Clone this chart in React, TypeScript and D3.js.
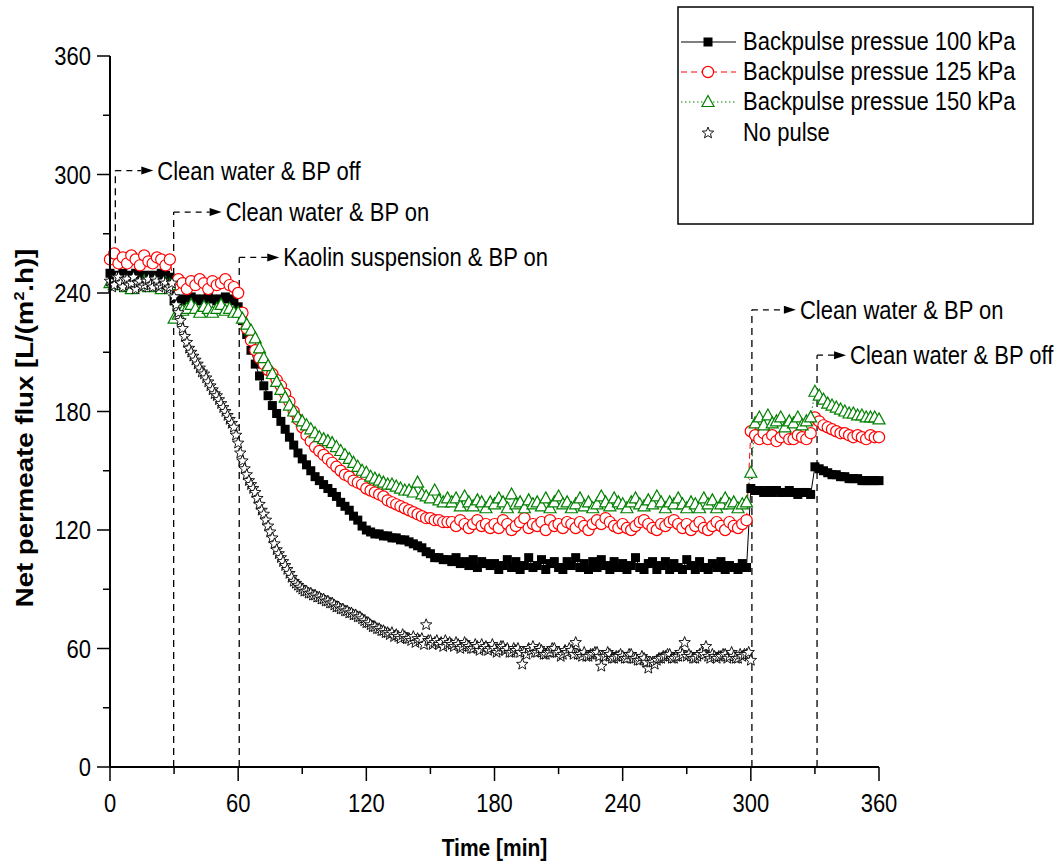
import React from 'react';
import * as d3 from 'd3';

// ---------- data ----------
const TIME_STEP = 2; // minutes between samples (backpulse series)
const NO_PULSE_STEP = 1; // minutes between samples (no pulse series)

const flux100 = [
  250, 249, 248, 250, 248, 249, 250, 248, 249, 248,
  249, 248, 250, 249, 248, 236, 237, 236, 237, 238,
  237, 236, 237, 238, 237, 236, 237, 238, 237, 236,
  233, 226, 219, 211, 204, 198, 193, 188, 183, 179,
  175, 171, 167, 163, 159, 156, 153, 150, 147, 145,
  143, 141, 139, 137, 134, 132, 130, 127, 125, 122,
  120, 119, 118, 118, 117, 117, 116, 116, 115, 115,
  114, 113, 112, 111, 109, 108, 106, 106, 105, 105,
  104, 106, 103, 104, 102, 105, 101, 104, 103, 102,
  103, 100, 102, 105, 101, 104, 100, 102, 106, 101,
  102, 105, 100, 103, 104, 101, 100, 104, 102, 106,
  101, 103, 100, 104, 101, 105, 102, 100, 104, 101,
  103, 100, 102, 106, 101, 100, 103, 104, 100, 102,
  104, 100, 103, 101, 100, 105, 102, 100, 104, 101,
  100, 103, 101, 104, 100, 102, 101, 100, 103, 101,
  141, 140, 140, 139, 140, 139, 140, 139, 139, 140,
  139, 138, 139, 139, 138, 152, 151, 150, 149, 148,
  148, 147, 147, 146, 146, 146, 145, 145, 145, 145,
  145,
];

const flux125 = [
  257, 260, 255, 258, 255, 259, 257, 254, 259, 256,
  255, 258, 257, 254, 257, 244, 247, 245, 242, 246,
  244, 247, 245, 242, 246, 244, 245, 247, 244, 243,
  240, 230, 222, 216, 211, 207, 204, 201, 199, 196,
  193, 189, 185, 180, 176, 172, 168, 165, 162, 160,
  158, 156, 154, 152, 150, 148, 147, 145, 144, 143,
  141, 140, 139, 138, 137, 135, 134, 133, 132, 131,
  130, 129, 128, 127, 126, 126, 125, 125, 124, 124,
  124, 122, 125, 123, 121, 123, 125, 122, 123, 121,
  123, 121, 125, 123, 120, 122, 124, 126, 121, 123,
  122, 124, 120, 125, 122, 123, 121, 124, 123, 121,
  124, 122, 120, 123, 125, 123, 126, 124, 122, 121,
  123, 121, 120, 122, 124, 125, 123, 121, 120, 123,
  122, 124, 125, 123, 121, 123, 120, 122, 124, 121,
  120, 122, 124, 122, 120, 124, 122, 121, 123, 125,
  170, 168, 166, 169, 166, 168, 165, 167, 169, 166,
  166, 168, 167, 166, 169, 177, 175, 173, 172, 171,
  170, 169, 169, 168, 167, 168, 167, 166, 168, 167,
  167,
];

const flux150 = [
  245, 244, 246, 245, 243, 242, 245, 244, 246, 243,
  245, 244, 242, 245, 244, 227, 229, 231, 232, 234,
  232, 230, 233, 232, 230, 232, 234, 231, 232, 230,
  230, 227, 224, 221, 217, 212, 207, 203, 199, 195,
  191, 187, 183, 180, 177, 175, 173, 171, 169, 167,
  166, 165, 164, 162, 160, 158, 156, 154, 152, 150,
  149, 147, 146, 145, 144, 143, 143, 142, 141, 140,
  140, 139, 144, 138, 137, 136, 140, 135, 134, 136,
  134, 136, 132, 137, 134, 132, 135, 134, 131, 134,
  133, 136, 134, 131, 138, 133, 134, 131, 135, 133,
  134, 132, 136, 131, 134, 137, 133, 134, 131, 133,
  136, 132, 134, 131, 133, 137, 134, 132, 136, 134,
  133, 131, 134, 136, 133, 132, 135, 133, 137, 134,
  131, 134, 133, 136, 133, 131, 134, 133, 131, 136,
  133, 135, 131, 133, 136, 133, 134, 131, 133, 134,
  149, 174, 177, 173, 178, 174, 175, 177, 172, 175,
  174, 177, 173, 175, 177, 190, 188, 186, 184, 183,
  182, 181, 180, 179, 179, 178, 178, 177, 177, 177,
  176,
];

const fluxNoPulse = [
  246, 243, 244, 248, 248, 245, 243, 247, 247, 244,
  245, 248, 242, 245, 246, 243, 244, 246, 247, 244,
  243, 247, 246, 243, 244, 246, 245, 242, 243, 245,
  238, 234, 230, 226, 222, 218, 215, 212, 210, 208,
  206, 204, 202, 200, 199, 197, 195, 193, 191, 189,
  188, 186, 184, 182, 180, 178, 176, 174, 172, 168,
  164, 159, 155, 151, 148, 145, 143, 141, 139, 136,
  133, 130, 128, 125, 122, 119, 116, 113, 110, 108,
  106, 104, 102, 100, 98, 96, 94, 93, 92, 91,
  90, 89, 89, 88, 88, 87, 87, 86, 86, 85,
  85, 84, 84, 83, 83, 82, 81, 81, 80, 80,
  79, 79, 78, 78, 77, 77, 76, 76, 75, 74,
  73, 73, 72, 71, 71, 70, 70, 69, 69, 68,
  68, 67, 68, 66, 67, 66, 65, 67, 66, 65,
  65, 64, 66, 63, 65, 64, 65, 62, 72, 64,
  64, 62, 63, 64, 62, 63, 61, 64, 62, 63,
  62, 61, 63, 62, 60, 61, 63, 62, 61, 60,
  60, 62, 61, 59, 62, 60, 61, 59, 60, 62,
  60, 58, 59, 61, 61, 59, 60, 58, 58, 60,
  59, 60, 58, 52, 58, 57, 60, 59, 61, 58,
  58, 60, 59, 57, 57, 58, 58, 60, 60, 58,
  58, 56, 57, 59, 58, 60, 59, 57, 63, 57,
  57, 56, 58, 56, 56, 57, 57, 58, 58, 56,
  51, 56, 56, 58, 57, 55, 55, 56, 56, 57,
  56, 55, 55, 57, 57, 55, 55, 54, 54, 56,
  55, 53, 50, 53, 53, 52, 54, 55, 55, 56,
  56, 57, 57, 55, 55, 56, 56, 58, 57, 63,
  56, 57, 56, 55, 55, 56, 57, 58, 57, 61,
  56, 55, 57, 56, 55, 56, 56, 57, 57, 55,
  56, 58, 56, 55, 55, 57, 56, 57, 57, 58,
  54,
];

const xTicks = [0, 60, 120, 180, 240, 300, 360];
const xMinorTicks = [30, 90, 150, 210, 270, 330];
const yTicks = [0, 60, 120, 180, 240, 300, 360];
const yMinorTicks = [30, 90, 150, 210, 270, 330];

const seriesNames = [
  'Backpulse pressue 100 kPa',
  'Backpulse pressue 125 kPa',
  'Backpulse pressue 150 kPa',
  'No pulse',
];

const annotationLabels = [
  'Clean water & BP off',
  'Clean water & BP on',
  'Kaolin suspension & BP on',
  'Clean water & BP on',
  'Clean water & BP off',
];
const annotationTimes = [2.5, 29.8, 60.5, 300.5, 331];
const annotationTops = [302, 281, 258, 231.5, 208.5];
const annotationBottoms = [247, 0, 0, 0, 0];
// layout: horizontal distance from the vertical line to the label
const annotationTextOffsets = [42, 52, 44, 48, 33];

// ---------- layout ----------
const W = 1060;
const H = 864;
const FONT = "'Liberation Sans', Arial, Helvetica, sans-serif";
const STRETCH = 1.15;
const RED = '#ff0000';
const GREEN = '#008000';

const x = d3.scaleLinear().domain([0, 360]).range([110, 879]);
const y = d3.scaleLinear().domain([0, 360]).range([767, 56]);

type Pt = { t: number; v: number };
const toPts = (arr: number[], step: number): Pt[] => arr.map((v, i) => ({ t: i * step, v }));

const s100 = toPts(flux100, TIME_STEP);
const s125 = toPts(flux125, TIME_STEP);
const s150 = toPts(flux150, TIME_STEP);
const sNo = toPts(fluxNoPulse, NO_PULSE_STEP);

const line = d3
  .line<Pt>()
  .x((d) => x(d.t))
  .y((d) => y(d.v));

function starPath(R: number, r: number) {
  const pts: string[] = [];
  for (let i = 0; i < 10; i++) {
    const rad = i % 2 === 0 ? R : r;
    const a = -Math.PI / 2 + (i * Math.PI) / 5;
    pts.push(`${(rad * Math.cos(a)).toFixed(2)},${(rad * Math.sin(a)).toFixed(2)}`);
  }
  return 'M' + pts.join('L') + 'Z';
}
const STAR = starPath(6, 2.6);
const TRI = 'M0,-6.5L6,4.5L-6,4.5Z';

function Square({ cx, cy }: { cx: number; cy: number }) {
  return <rect x={cx - 4.5} y={cy - 4.5} width={9} height={9} fill="#000" />;
}
function Circle({ cx, cy }: { cx: number; cy: number }) {
  return <circle cx={cx} cy={cy} r={5.6} fill="#fff" stroke={RED} strokeWidth={1.2} />;
}
function Tri({ cx, cy }: { cx: number; cy: number }) {
  return <path d={TRI} transform={`translate(${cx},${cy})`} fill="#fff" stroke={GREEN} strokeWidth={1.2} />;
}
function Star({ cx, cy }: { cx: number; cy: number }) {
  return <path d={STAR} transform={`translate(${cx},${cy})`} fill="#fff" stroke="#000" strokeWidth={0.9} />;
}

function T({
  x: tx,
  y: ty,
  anchor = 'start',
  size = 22,
  weight = 'normal',
  children,
}: {
  x: number;
  y: number;
  anchor?: string;
  size?: number;
  weight?: string;
  children: React.ReactNode;
}) {
  return (
    <text
      transform={`translate(${tx},${ty}) scale(1,${STRETCH})`}
      textAnchor={anchor as any}
      fontSize={size}
      fontWeight={weight}
      fontFamily={FONT}
      fill="#000"
    >
      {children}
    </text>
  );
}

export default function App() {
  const legendRows = [42, 72, 102, 133];
  return (
    <svg
      width={W}
      height={H}
      viewBox={`0 0 ${W} ${H}`}
      style={{ position: 'absolute', left: 0, top: 0, background: '#fff' }}
    >
      <rect x={0} y={0} width={W} height={H} fill="#fff" />

      {/* annotations */}
      {annotationLabels.map((lab, i) => {
        const x0 = x(annotationTimes[i]);
        const yt = y(annotationTops[i]);
        const yb = y(annotationBottoms[i]);
        const tx = x0 + annotationTextOffsets[i];
        const arrowEnd = tx - 4;
        const arrowStart = arrowEnd - 12;
        return (
          <g key={i}>
            <line x1={x0} y1={yb} x2={x0} y2={yt} stroke="#000" strokeWidth={1.3} strokeDasharray="7,5" />
            <line x1={x0} y1={yt} x2={arrowStart} y2={yt} stroke="#000" strokeWidth={1.3} strokeDasharray="6,5" />
            <path d={`M${arrowStart},${yt - 4}L${arrowEnd},${yt}L${arrowStart},${yt + 4}Z`} fill="#000" />
            <T x={tx} y={yt + 9}>{lab}</T>
          </g>
        );
      })}

      {/* series lines */}
      <path d={line(s100) || ''} fill="none" stroke="#000" strokeWidth={1} />
      <path d={line(s125) || ''} fill="none" stroke={RED} strokeWidth={1} strokeDasharray="6,4" />
      <path d={line(s150) || ''} fill="none" stroke={GREEN} strokeWidth={1} strokeDasharray="1.5,2.5" />

      {/* markers */}
      <g>
        {s100.map((d, i) => (
          <Square key={i} cx={x(d.t)} cy={y(d.v)} />
        ))}
      </g>
      <g>
        {s125.map((d, i) => (
          <Circle key={i} cx={x(d.t)} cy={y(d.v)} />
        ))}
      </g>
      <g>
        {s150.map((d, i) => (
          <Tri key={i} cx={x(d.t)} cy={y(d.v)} />
        ))}
      </g>
      <g>
        {sNo.map((d, i) => (
          <Star key={i} cx={x(d.t)} cy={y(d.v)} />
        ))}
      </g>

      {/* axes */}
      <line x1={x(0)} y1={y(0)} x2={x(0)} y2={y(360)} stroke="#000" strokeWidth={2} />
      <line x1={x(0)} y1={y(0)} x2={x(360)} y2={y(0)} stroke="#000" strokeWidth={2} />
      {yTicks.map((v) => (
        <g key={'yt' + v}>
          <line x1={x(0) - 13} x2={x(0)} y1={y(v)} y2={y(v)} stroke="#000" strokeWidth={1.5} />
          <T x={91} y={y(v) + 9} anchor="end">{v}</T>
        </g>
      ))}
      {yMinorTicks.map((v) => (
        <line key={'ym' + v} x1={x(0) - 7} x2={x(0)} y1={y(v)} y2={y(v)} stroke="#000" strokeWidth={1.5} />
      ))}
      {xTicks.map((t) => (
        <g key={'xt' + t}>
          <line x1={x(t)} x2={x(t)} y1={y(0)} y2={y(0) + 14} stroke="#000" strokeWidth={1.5} />
          <T x={x(t)} y={812} anchor="middle">{t}</T>
        </g>
      ))}
      {xMinorTicks.map((t) => (
        <line key={'xm' + t} x1={x(t)} x2={x(t)} y1={y(0)} y2={y(0) + 7} stroke="#000" strokeWidth={1.5} />
      ))}

      {/* axis titles */}
      <T x={x(180)} y={856} anchor="middle" size={21} weight="bold">Time [min]</T>
      <text
        transform={`translate(33,428) rotate(-90) scale(${STRETCH},1)`}
        textAnchor="middle"
        fontSize={24}
        fontWeight="bold"
        fontFamily={FONT}
        fill="#000"
      >
        Net permeate flux [L/(m
        <tspan fontSize={14} dy={-9}>2</tspan>
        <tspan dy={9}>.h)]</tspan>
      </text>

      {/* legend */}
      <rect x={678} y={7} width={355} height={217} fill="#fff" stroke="#000" strokeWidth={1.5} />
      <line x1={681} x2={736} y1={legendRows[0]} y2={legendRows[0]} stroke="#000" strokeWidth={1.2} />
      <Square cx={708} cy={legendRows[0]} />
      <line x1={681} x2={736} y1={legendRows[1]} y2={legendRows[1]} stroke={RED} strokeWidth={1.2} strokeDasharray="6,4" />
      <Circle cx={708} cy={legendRows[1]} />
      <line x1={681} x2={736} y1={legendRows[2]} y2={legendRows[2]} stroke={GREEN} strokeWidth={1.2} strokeDasharray="1.5,2.5" />
      <Tri cx={708} cy={legendRows[2]} />
      <Star cx={708} cy={legendRows[3]} />
      {seriesNames.map((n, i) => (
        <T key={n} x={743} y={legendRows[i] + 8}>{n}</T>
      ))}
    </svg>
  );
}
